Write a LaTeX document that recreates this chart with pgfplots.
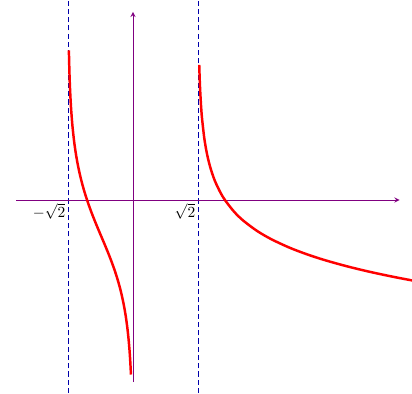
\documentclass[border=0pt]{standalone}
\usepackage{pgfplots}
\pgfplotsset{compat=1.18}
\definecolor{axpurple}{RGB}{128,0,128}
\definecolor{dashblue}{RGB}{0,0,170}
\begin{document}
\begin{tikzpicture}
\begin{axis}[
  scale only axis, width=300pt, height=286.2pt,
  xmin=-2.894, xmax=6.070, ymin=-4.196, ymax=4.348,
  hide axis,
]
\path (rel axis cs:0,0) rectangle (rel axis cs:1,1);
% asymptotes
\addplot[dashblue, line width=0.65pt, dash pattern=on 3.8pt off 2.2pt] coordinates {(-1.41421,-4.196) (-1.41421,4.348)};
\addplot[dashblue, line width=0.65pt, dash pattern=on 3.8pt off 2.2pt] coordinates {(1.41421,-4.196) (1.41421,4.348)};
% axes
\draw[axpurple, line width=0.7pt, -stealth] (axis cs:-2.54,0) -- (axis cs:5.80,0);
\draw[axpurple, line width=0.7pt, -stealth] (axis cs:0,-3.96) -- (axis cs:0,4.09);
% left branch
\addplot[red, line width=1.8pt, smooth] coordinates {
(-1.395,3.252) (-1.39,3.019) (-1.38,2.670) (-1.37,2.410) (-1.35,2.029)
(-1.32,1.634) (-1.28,1.264) (-1.24,0.9865) (-1.2,0.7621) (-1.15,0.5291)
(-1.1,0.3311) (-1.05,0.1569) (-1.0,0) (-0.95,-0.1443) (-0.9,-0.2793)
(-0.85,-0.4074) (-0.8,-0.5306) (-0.75,-0.6506) (-0.7,-0.7688) (-0.65,-0.8866)
(-0.6,-1.0055) (-0.55,-1.1270) (-0.5,-1.2528) (-0.45,-1.3849) (-0.4,-1.5261)
(-0.35,-1.6798) (-0.3,-1.8511) (-0.25,-2.0477) (-0.2,-2.2824) (-0.16,-2.5128)
(-0.12,-2.8062) (-0.09,-3.0970) (-0.07,-3.3500) (-0.055,-3.5922) (-0.045,-3.7932)
};
% right branch
\addplot[red, line width=1.8pt, smooth] coordinates {
(1.441,2.936) (1.45,2.6495) (1.46,2.4064) (1.48,2.0506) (1.5,1.7918)
(1.55,1.3483) (1.6,1.0498) (1.65,0.8258) (1.7,0.6472) (1.75,0.4990)
(1.8,0.3727) (1.9,0.1656) (2.0,0) (2.2,-0.2553) (2.4,-0.4490)
(2.7,-0.6726) (3.0,-0.8473) (3.4,-1.0338) (3.8,-1.1859) (4.2,-1.3148)
(4.7,-1.4526) (5.2,-1.5718) (5.7,-1.6769) (6.1,-1.7530)
};
\node[scale=1.12] at (axis cs:-1.826,-0.25) {$-\sqrt{2}$};
\node[scale=1.12] at (axis cs:1.13,-0.25) {$\sqrt{2}$};
\end{axis}
\end{tikzpicture}
\end{document}
